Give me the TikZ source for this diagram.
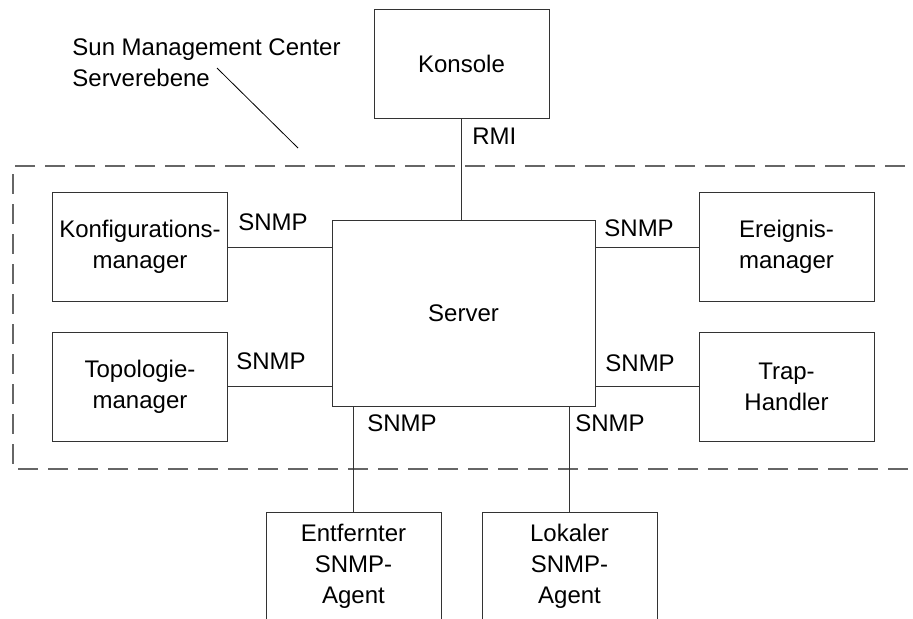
\documentclass[tikz,border=0pt]{standalone}
\usepackage{fontspec}
\setmainfont{Liberation Sans}
\begin{document}
\begin{tikzpicture}[x=0.5pt,y=-0.5pt,
    font=\fontsize{12}{15.5}\selectfont,
    box/.style={draw=black!80, line width=0.5pt, align=center, inner sep=0pt,
        minimum width=87.5pt, minimum height=54.5pt},
    lbl/.style={inner sep=0pt, anchor=west},
    link/.style={draw=black!80, line width=0.5pt}]
    \useasboundingbox (0,0) rectangle (913,618);
    % Serverebene
    \draw[black!60, line width=0.6pt, dash pattern=on 10pt off 5pt]
        (935,166) -- (13,166) -- (13,469) -- (935,469);
    \draw
        (461.5,63.5) node[box] (konsole) {Konsole}
        (463.5,313) node[box, minimum width=131.5pt, minimum height=93pt] (server) {Server}
        (140,247) node[box] (konfig) {Konfigurations-\\manager}
        (140,386.5) node[box] (topo) {Topologie-\\manager}
        (786.5,247) node[box] (ereignis) {Ereignis-\\manager}
        (786.5,386.5) node[box] (trap) {Trap-\\Handler}
        (353.5,566) node[box, minimum height=54pt] (remote) {Entfernter\\SNMP-\\Agent}
        (569.5,566) node[box, minimum height=54pt] (local) {Lokaler\\SNMP-\\Agent}
        (72,63) node[lbl, align=left] (title) {Sun Management Center\\Serverebene}
        (472,136) node[lbl] (rmi) {RMI}
        (238,222) node[lbl] (snmpkonfig) {SNMP}
        (236,361) node[lbl] (snmptopo) {SNMP}
        (604,228) node[lbl] (snmpereignis) {SNMP}
        (605,363) node[lbl] (snmptrap) {SNMP}
        (367,423) node[lbl] (snmpremote) {SNMP}
        (575,423) node[lbl] (snmplocal) {SNMP}
        ;
    \coordinate (callout1) at (217,68);
    \coordinate (callout2) at (298,148);
    \draw[line width=0.4pt] (callout1) -- (callout2);
    \draw[link] (konsole.south) -- (konsole.south |- server.north);
    \draw[link] (konfig.east) -- (konfig.east -| server.west);
    \draw[link] (topo.east) -- (topo.east -| server.west);
    \draw[link] (ereignis.west) -- (ereignis.west -| server.east);
    \draw[link] (trap.west) -- (trap.west -| server.east);
    \draw[link] (remote.north) -- (remote.north |- server.south);
    \draw[link] (local.north) -- (local.north |- server.south);
\end{tikzpicture}
\end{document}
